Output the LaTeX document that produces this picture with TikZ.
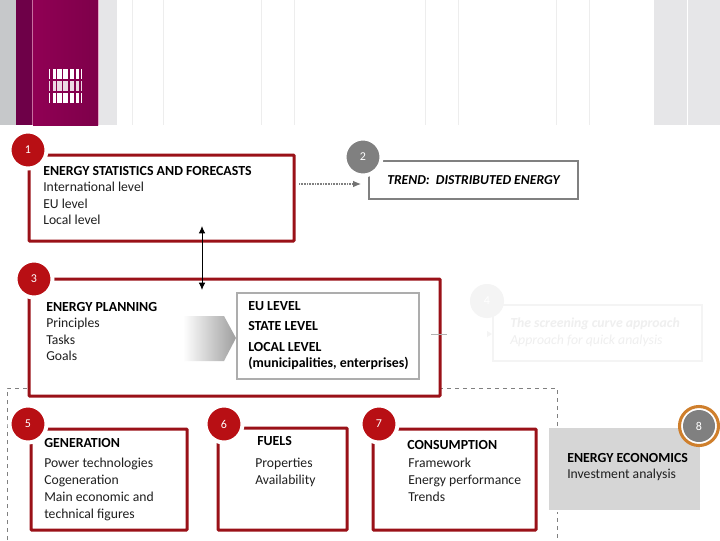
\documentclass[tikz,border=0pt]{standalone}
\usepackage{fontspec}
\setmainfont{Carlito}
\usetikzlibrary{arrows.meta}
\definecolor{boxred}{HTML}{9A1118}
\definecolor{dotred}{HTML}{B80F14}
\definecolor{midgray}{HTML}{808080}
\definecolor{ringor}{HTML}{CF7F2C}
\definecolor{faint}{HTML}{F4F4F4}
\definecolor{fainttext}{HTML}{EFEFEF}
\definecolor{hdgray}{HTML}{C6C8CA}
\definecolor{purpledark}{HTML}{6E0048}
\definecolor{pinkline}{HTML}{C76FA0}
\definecolor{magA}{HTML}{900054}
\definecolor{magB}{HTML}{7E004A}
\definecolor{pinkB}{HTML}{E6A8C8}
\definecolor{hdlight}{HTML}{E6E6E8}
\def\px{0.75pt}
\tikzset{
  redbox/.style={draw=boxred,line width=2.25pt,fill=white,inner sep=0pt,rounded corners=0.5pt},
  graybox/.style={draw=midgray,line width=2pt,fill=white,inner sep=0pt},
  innerbox/.style={draw=black!32,line width=1.5pt,fill=white,inner sep=0pt},
  econbox/.style={draw=white,line width=2pt,fill=black!16,inner sep=0pt},
  fadebox/.style={draw=faint,line width=1.6pt,fill=white,inner sep=0pt},
  badge/.style={circle,draw=white,line width=3pt,fill=dotred,text=white,inner sep=0pt,minimum size=37*\px,font=\fontsize{9}{10}\selectfont},
  graybadge/.style={badge,fill=midgray},
  txt/.style={anchor=base west,inner sep=0pt,font=\fontsize{10.25}{12}\selectfont,text=black!88},
  hd/.style={txt,font=\fontsize{10.4}{12}\selectfont\bfseries,text=black},
  vl/.style={draw=black!7,line width=0.6pt},
  bar/.style={fill=white,draw=none},
}
\newcommand{\logobars}[2]{%
  \foreach \a/\b in {49.3/50.2,52.7/56,57.3/61.7,63.3/68.3,70.3/74,75.7/79.3,81/82}
    \fill[bar,opacity=#2] (\a,#1) rectangle (\b,#1+10);
}
\begin{document}
\begin{tikzpicture}[x=0.75pt,y=-0.75pt]
\useasboundingbox (0,0) rectangle (720,540);
% header
\fill[white] (0,0) rectangle (720,540);
\fill[hdgray] (0,0) rectangle (16,125);
\fill[purpledark] (16,0) rectangle (32,125);
\fill[pinkline] (32,0) rectangle (33,125);
\shade[left color=magA,right color=magB] (33,0) rectangle (98,125);
\fill[pinkB] (98,0) rectangle (99,125);
\fill[hdlight] (99,0) rectangle (117,125);
\fill[hdlight] (654,0) rectangle (720,125);
\fill[white] (687,0) rectangle (688,125);
\foreach \v in {132,163,261,294,425,458,556,589} \draw[vl] (\v,0) -- (\v,125);
\logobars{69}{1}
\logobars{81}{0.85}
\logobars{93}{1}
% dashed frame
\coordinate (fa) at (7,540);
\coordinate (fb) at (7,388);
\coordinate (fc) at (557,388);
\coordinate (fd) at (557,540);
\draw[black!50,line width=0.75pt,dashed] (fa) -- (fb) -- (fc) -- (fd);
% faded item 4
\node[fadebox,minimum width=209*\px,minimum height=56*\px] (b4) at (597.5,333) {};
\node[circle,fill=faint,inner sep=0pt,minimum size=34*\px,text=white,font=\fontsize{9}{10}\selectfont] (c4) at (487,301) {4};
\node[txt,text=fainttext,font=\fontsize{10.3}{12}\selectfont\bfseries\itshape] (t4a) at (510,327) {The screening curve approach};
\node[txt,text=fainttext,font=\fontsize{10.3}{12}\selectfont\itshape] (t4b) at (510,344) {Approach for quick analysis};
% red box 3 & contents
\node[redbox,minimum width=411*\px,minimum height=117*\px] (b3) at (234.5,337.5) {};
\node[redbox,minimum width=265*\px,minimum height=86*\px] (b1) at (161.5,198) {};
\node[graybox,minimum width=209*\px,minimum height=38*\px] (b2) at (473.5,180) {};
\node[redbox,minimum width=156*\px,minimum height=101*\px] (b5) at (109,479.5) {};
\node[redbox,minimum width=129*\px,minimum height=102*\px] (b6) at (282.5,479) {};
\node[redbox,minimum width=163*\px,minimum height=101*\px] (b7) at (454.5,479.5) {};
\node[econbox,minimum width=153*\px,minimum height=84*\px] (b8) at (624.5,469) {};
\node[innerbox,minimum width=182*\px,minimum height=86*\px] (ib) at (328,336) {};
% faint link to 4
\coordinate (l4a) at (431,334);
\coordinate (l4b) at (447,334);
\draw[black!30,line width=0.5pt] (l4a) -- (l4b);
\fill[faint] (487,331) -- (492,334) -- (487,337) -- cycle;
% block arrow
\shade[left color=white,right color=black!38] (183,316) -- (224,316) -- (236,338) -- (224,361) -- (183,361) -- cycle;
% connectors
\coordinate (a1) at (299,184);
\coordinate (a2) at (361,184);
\draw[black!50,line width=0.8pt,dash pattern=on 0.8pt off 0.4pt,-{Latex[length=6pt,width=5pt,color=black!55]}] (a1) -- (a2);
\coordinate (a3) at (202,226);
\coordinate (a4) at (202,290);
\draw[black,line width=0.75pt,{Latex[length=5.5pt,width=5pt]}-{Latex[length=5.5pt,width=5pt]}] (a3) -- (a4);
% badges
\node[badge] (c1) at (28,150) {1};
\node[graybadge] (c2) at (363,157) {2};
\node[badge] (c3) at (34,279) {3};
\node[badge] (c5) at (28,424) {5};
\node[badge] (c6) at (224,424) {6};
\node[badge] (c7) at (379,424) {7};
\node[circle,draw=ringor,line width=2.3pt,fill=white,inner sep=0pt,minimum size=39*\px] (r8) at (699,426) {};
\node[circle,fill=midgray,text=white,inner sep=0pt,minimum size=32*\px,font=\fontsize{9}{10}\selectfont] (c8) at (699,426) {8};
% text
\node[hd] (t1) at (43,175) {ENERGY STATISTICS AND FORECASTS};
\node[txt] (t1a) at (43,191) {International level};
\node[txt] (t1b) at (43,208) {EU level};
\node[txt] (t1c) at (43,224) {Local level};
\node[hd,font=\fontsize{10.25}{12}\selectfont\bfseries\itshape] (t2) at (387,184) {TREND:\ \ DISTRIBUTED ENERGY};
\node[hd] (t3) at (46,311) {ENERGY PLANNING};
\node[txt] (t3a) at (46,327) {Principles};
\node[txt] (t3b) at (46,344) {Tasks};
\node[txt] (t3c) at (46,360) {Goals};
\node[hd] (i1) at (248,310) {EU LEVEL};
\node[hd] (i2) at (248,330) {STATE LEVEL};
\node[hd] (i3) at (248,351) {LOCAL LEVEL};
\node[hd] (i4) at (248,367) {(municipalities, enterprises)};
\node[hd] (t5) at (44,447) {GENERATION};
\node[txt] (t5a) at (44,467) {Power technologies};
\node[txt] (t5b) at (44,484) {Cogeneration};
\node[txt] (t5c) at (44,501) {Main economic and};
\node[txt] (t5d) at (44,518) {technical figures};
\node[hd] (t6) at (257,445) {FUELS};
\node[txt] (t6a) at (255,467) {Properties};
\node[txt] (t6b) at (255,484) {Availability};
\node[hd] (t7) at (407,449) {CONSUMPTION};
\node[txt] (t7a) at (408,467) {Framework};
\node[txt] (t7b) at (408,484) {Energy performance};
\node[txt] (t7c) at (408,501) {Trends};
\node[hd] (t8) at (567,462) {ENERGY ECONOMICS};
\node[txt] (t8a) at (567,478) {Investment analysis};
\end{tikzpicture}
\end{document}
